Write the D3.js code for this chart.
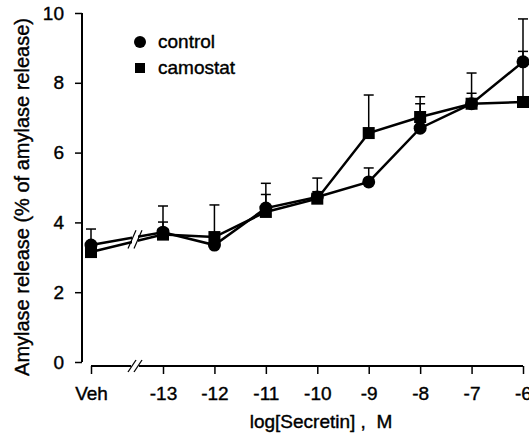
<!DOCTYPE html>
<html>
<head>
<meta charset="utf-8">
<script src="https://cdn.jsdelivr.net/npm/d3@7"></script>
<style>
  body { margin: 0; background: #fff; }
  text { font-family: "Liberation Sans", Arial, sans-serif; fill: #000; }
</style>
</head>
<body>
<div id="chart"></div>
<script>
// data
let doses = ["Veh", "-13", "-12", "-11", "-10", "-9", "-8", "-7", "-6"];
let doseLog = [-14.4, -13, -12, -11, -10, -9, -8, -7, -6];
let control = [3.35, 3.72, 3.35, 4.41, 4.73, 5.16, 6.70, 7.40, 8.60];
let controlErr = [0.46, 0.75, 0.10, 0.71, 0.54, 0.40, 0.70, 0.88, 1.23];
let camostat = [3.15, 3.65, 3.58, 4.30, 4.68, 6.56, 7.02, 7.40, 7.45];
let camostatErr = [0.20, 0.36, 0.92, 0.50, 0.20, 1.09, 0.58, 0.30, 1.45];
let yTicks = [0, 2, 4, 6, 8, 10];

let width = 529, height = 436;
let svg = d3.select("#chart").append("svg")
    .attr("width", width)
    .attr("height", height);

let x = d3.scaleLinear().domain([-13, -6]).range([163, 523]);
let y = d3.scaleLinear().domain([0, 10]).range([362, 13]);
let breakX = 135;
let axisY = 366;

// y axis
let yAxis = svg.append("g")
    .attr("transform", "translate(82,0)")
    .call(d3.axisLeft(y).tickValues(yTicks).tickSize(7).tickPadding(11));
yAxis.select(".domain").attr("d", "M0," + y(10) + "V" + y(0)).attr("stroke-width", 2);
yAxis.selectAll(".tick line").attr("stroke-width", 1.5);
yAxis.selectAll("text").style("font-size", "19px").style("font-family", null)
    .attr("stroke", "#000").attr("stroke-width", 0.4);

// x axis, drawn with a break between Veh and -13
let xAxis = svg.append("g")
    .attr("transform", "translate(0," + axisY + ")")
    .call(d3.axisBottom(x).tickValues(doseLog).tickFormat(function (d, i) { return doses[i]; })
        .tickSize(8).tickPadding(13).tickSizeOuter(0));
xAxis.select(".domain").remove();
xAxis.append("path")
    .attr("d", "M" + x(doseLog[0]) + ",0H" + (breakX - 4) + "M" + (breakX + 4) + ",0H" + x(-6))
    .attr("stroke", "#000").attr("stroke-width", 2).attr("fill", "none");
xAxis.selectAll(".tick line").attr("stroke-width", 1.5);
xAxis.selectAll("text").style("font-size", "19px").style("font-family", null)
    .attr("stroke", "#000").attr("stroke-width", 0.4);
[-4, 2].forEach(function (dx) {
    xAxis.append("line")
        .attr("x1", breakX + dx - 3).attr("y1", 6)
        .attr("x2", breakX + dx + 5).attr("y2", -6)
        .attr("stroke", "#000").attr("stroke-width", 1.3);
});

// axis titles
svg.append("text")
    .attr("x", 321).attr("y", 428)
    .attr("text-anchor", "middle")
    .attr("stroke", "#000").attr("stroke-width", 0.4)
    .style("font-size", "19px")
    .style("white-space", "pre")
    .text("log[Secretin] ,  M");

svg.append("text")
    .attr("transform", "translate(29," + 197 + ") rotate(-90)")
    .attr("text-anchor", "middle")
    .attr("stroke", "#000").attr("stroke-width", 0.4)
    .style("font-size", "20px")
    .text("Amylase release (% of amylase release)");

// series
let series = [
    {name: "control", values: control, err: controlErr, shape: "circle"},
    {name: "camostat", values: camostat, err: camostatErr, shape: "square"}
];

let line = d3.line()
    .x(function (d) { return x(d[0]); })
    .y(function (d) { return y(d[1]); });

let plot = svg.append("g");

// error bars (upper only)
series.forEach(function (s) {
    let g = plot.append("g");
    s.values.forEach(function (v, i) {
        let cx = x(doseLog[i]);
        g.append("line")
            .attr("x1", cx).attr("x2", cx)
            .attr("y1", y(v)).attr("y2", y(v + s.err[i]))
            .attr("stroke", "#000").attr("stroke-width", 1.5);
        g.append("line")
            .attr("x1", cx - 5).attr("x2", cx + 5)
            .attr("y1", y(v + s.err[i])).attr("y2", y(v + s.err[i]))
            .attr("stroke", "#000").attr("stroke-width", 1.5);
    });
});

// lines
series.forEach(function (s) {
    let pts = s.values.map(function (v, i) { return [doseLog[i], v]; });
    plot.append("path")
        .attr("d", line(pts))
        .attr("fill", "none")
        .attr("stroke", "#000")
        .attr("stroke-width", 2.5);
});

// break in the data lines between Veh and -13
let frac = (breakX - x(doseLog[0])) / (x(-13) - x(doseLog[0]));
let atBreak = [control, camostat].map(function (a) { return a[0] + (a[1] - a[0]) * frac; });
let bTop = d3.max(atBreak), bBot = d3.min(atBreak);
plot.append("rect")
    .attr("x", breakX - 3).attr("width", 6)
    .attr("y", y(bTop) - 4).attr("height", y(bBot) - y(bTop) + 8)
    .attr("fill", "#fff");
[-3, 3].forEach(function (dx) {
    plot.append("line")
        .attr("x1", breakX + dx - 4).attr("y1", y(bBot) + 7)
        .attr("x2", breakX + dx + 4).attr("y2", y(bTop) - 7)
        .attr("stroke", "#000").attr("stroke-width", 1.2);
});

// markers
doseLog.forEach(function (d, i) {
    plot.append("circle")
        .attr("cx", x(d)).attr("cy", y(control[i]))
        .attr("r", 6.5).attr("fill", "#000");
    plot.append("rect")
        .attr("x", x(d) - 6).attr("y", y(camostat[i]) - 6)
        .attr("width", 12).attr("height", 12)
        .attr("fill", "#000");
});

// legend
let legend = svg.append("g").attr("transform", "translate(140,42)");
legend.append("circle").attr("cx", 0).attr("cy", 0).attr("r", 6).attr("fill", "#000");
legend.append("text").attr("x", 18).attr("y", 6).style("font-size", "19px")
    .attr("stroke", "#000").attr("stroke-width", 0.4).text("control");
legend.append("rect").attr("x", -5).attr("y", 21).attr("width", 10).attr("height", 10).attr("fill", "#000");
legend.append("text").attr("x", 18).attr("y", 32).style("font-size", "19px")
    .attr("stroke", "#000").attr("stroke-width", 0.4).text("camostat");
</script>
</body>
</html>
